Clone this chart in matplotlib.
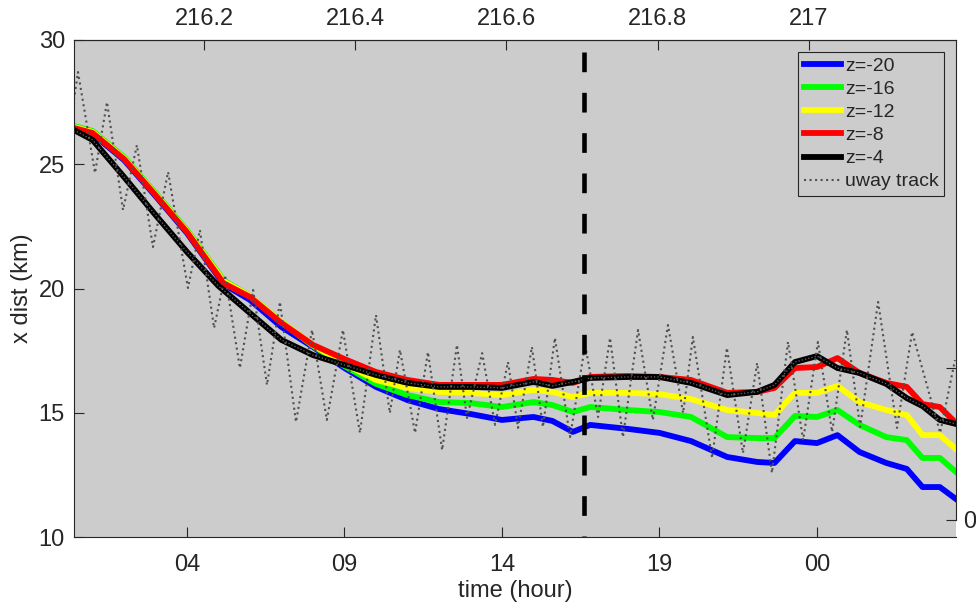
import numpy as np
import matplotlib.pyplot as plt

# x distance of drifter/float positions at several depths vs time (local hour)
hours = [0.41, 1, 2, 3, 4, 5, 5.15, 6, 7, 8, 9, 10, 11, 12, 13, 14, 15, 15.6,
         16.25, 16.8, 18, 19, 20, 21.15, 22.1, 22.65, 23.3, 24, 24.65, 25.35,
         26.2, 26.85, 27.35, 27.9, 28.41]

z20 = [26.42, 26.22, 25.17, 23.72, 22.23, 20.46, 20.18, 19.54, 18.45, 17.65,
       16.80, 16.04, 15.51, 15.15, 14.95, 14.71, 14.83, 14.67, 14.23, 14.51,
       14.35, 14.19, 13.86, 13.22, 13.02, 12.98, 13.86, 13.78, 14.10, 13.42,
       12.98, 12.74, 12.01, 12.01, 11.53]
z16 = [26.54, 26.34, 25.29, 23.84, 22.35, 20.62, 20.34, 19.70, 18.65, 17.69,
       16.88, 16.16, 15.71, 15.43, 15.39, 15.23, 15.43, 15.31, 15.03, 15.23,
       15.11, 15.03, 14.83, 14.02, 13.98, 13.98, 14.87, 14.83, 15.11, 14.51,
       14.02, 13.90, 13.18, 13.18, 12.62]
z12 = [26.50, 26.30, 25.25, 23.80, 22.31, 20.58, 20.30, 19.70, 18.65, 17.73,
       16.96, 16.32, 16.00, 15.84, 15.80, 15.71, 15.92, 15.84, 15.63, 15.80,
       15.80, 15.75, 15.55, 15.11, 14.99, 14.91, 15.80, 15.80, 16.08, 15.43,
       15.11, 14.91, 14.10, 14.10, 13.54]
z8 = [26.46, 26.26, 25.21, 23.76, 22.27, 20.50, 20.22, 19.66, 18.61, 17.73,
      17.16, 16.64, 16.32, 16.12, 16.12, 16.12, 16.36, 16.32, 16.20, 16.44,
      16.48, 16.44, 16.32, 15.80, 15.84, 16.00, 16.80, 16.84, 17.20, 16.60,
      16.20, 16.04, 15.35, 15.23, 14.59]
z4 = [26.38, 25.98, 24.49, 22.96, 21.47, 20.10, 19.94, 19.01, 17.93, 17.32,
      16.92, 16.52, 16.20, 16.04, 16.04, 16.00, 16.24, 16.08, 16.24, 16.40,
      16.44, 16.44, 16.20, 15.71, 15.84, 16.12, 17.04, 17.28, 16.80, 16.60,
      16.16, 15.59, 15.27, 14.71, 14.55]

# underway ship track
track_hours = [0.41, 0.54, 1.08, 1.46, 1.97, 2.41, 2.92, 3.40, 4.03, 4.41,
               4.86, 5.21, 5.68, 6.10, 6.54, 6.95, 7.46, 7.97, 8.44, 8.95,
               9.49, 10.0, 10.44, 10.76, 11.24, 11.65, 12.10, 12.57, 12.89,
               13.37, 13.78, 14.19, 14.51, 14.95, 15.30, 15.68, 16.16, 16.64,
               17.05, 17.43, 17.84, 18.32, 18.79, 19.27, 19.75, 20.06, 20.67,
               21.14, 21.65, 22.10, 22.57, 23.08, 23.56, 24.03, 24.48, 24.95,
               25.37, 25.94, 26.54, 27.02, 27.91, 28.38]
track_dist = [27.59, 28.71, 24.65, 27.50, 23.16, 25.77, 21.67, 24.69, 20.02,
              22.35, 18.41, 20.54, 16.80, 19.94, 16.12, 19.46, 14.63, 18.33,
              14.71, 18.33, 14.19, 18.93, 14.99, 17.53, 14.19, 17.44, 13.50,
              17.73, 14.79, 17.40, 14.51, 17.04, 14.39, 17.65, 14.43, 18.01,
              14.02, 17.73, 14.83, 18.01, 14.02, 18.33, 14.71, 18.53, 14.99,
              18.05, 13.18, 17.61, 13.38, 17.00, 12.58, 17.85, 13.90, 17.85,
              14.23, 18.33, 14.43, 19.46, 14.39, 18.25, 14.19, 17.12]

t_mark = 16.59
hour_ticks = [4, 9, 14, 19, 24]
hour_labels = ['04', '09', '14', '19', '00']
yday_ticks = [216.2, 216.4, 216.6, 216.8, 217.0]
yday_labels = ['216.2', '216.4', '216.6', '216.8', '217']
hour_offset = 0.26

plt.rcParams['font.family'] = ['Liberation Sans', 'DejaVu Sans']
dark = '#262626'
fs = 17

fig = plt.figure(figsize=(9.76, 6.09), dpi=100)
ax = fig.add_axes([74/976, 72/609, 882/976, 497/609])
ax.set_facecolor('#cccccc')

lines = []
for vals, col, lab in [(z20, '#0000ff', 'z=-20'), (z16, '#00ff00', 'z=-16'),
                       (z12, '#ffff00', 'z=-12'), (z8, '#ff0000', 'z=-8'),
                       (z4, '#000000', 'z=-4')]:
    l, = ax.plot(hours, vals, color=col, lw=4.2, label=lab)
    lines.append(l)

l, = ax.plot(track_hours, track_dist, color='#505050', lw=1.5, ls=':',
             label='uway track')
lines.append(l)
ax.plot(hours, z4, color='#6a6a6a', lw=0.9, ls=':')

ax.plot([t_mark, t_mark], [29.5, 10], color='k', lw=3.3,
        ls=(0, (4.3, 4.5)))

ax.set_xlim(0.413, 28.413)
ax.set_ylim(10, 30)
ax.set_yticks([10, 15, 20, 25, 30])
ax.set_xticks(hour_ticks)
ax.set_xticklabels(hour_labels)
ax.tick_params(direction='in', length=7, width=0.8, colors=dark,
               labelsize=fs)
ax.tick_params(axis='x', pad=12)
ax.tick_params(axis='y', pad=6.5)
for s in ['left', 'top', 'bottom']:
    ax.spines[s].set_color(dark)
    ax.spines[s].set_linewidth(0.8)
ax.spines['right'].set_visible(False)
ax.set_xlabel('time (hour)', fontsize=fs, color=dark, labelpad=3)
ax.set_ylabel('x dist (km)', fontsize=fs, color=dark, labelpad=4)

top = ax.secondary_xaxis('top', functions=(
    lambda h: 216 + (h + hour_offset) / 24.0,
    lambda d: (d - 216) * 24.0 - hour_offset))
top.set_xticks(yday_ticks)
top.set_xticklabels(yday_labels)
top.tick_params(direction='in', length=7, width=0.8, colors=dark,
                labelsize=fs, pad=7)
top.spines['top'].set_color(dark)
top.spines['top'].set_linewidth(0.8)

# right-hand axis
rax = fig.add_axes([74/976, 89/609, 882/976, 480/609])
rax.patch.set_visible(False)
for s in ['left', 'top', 'bottom']:
    rax.spines[s].set_visible(False)
rax.spines['right'].set_color(dark)
rax.spines['right'].set_linewidth(0.8)
rax.set_xticks([])
rax.set_ylim(0, 1)
rax.yaxis.tick_right()
rax.set_yticks([0, 152/480])
rax.set_yticklabels(['0', ''])
rax.tick_params(direction='in', length=7, width=0.8, colors=dark,
                labelsize=fs, pad=5)

leg = ax.legend(handles=lines, loc='upper right', fontsize=14,
                facecolor='#cccccc', edgecolor=dark, framealpha=1,
                fancybox=False, borderaxespad=0.6, borderpad=0.3,
                handlelength=1.9, handletextpad=0.2, labelspacing=0.28)
leg.get_frame().set_linewidth(0.8)
for t in leg.get_texts():
    t.set_color(dark)

fig.savefig('out.png', dpi=100)
